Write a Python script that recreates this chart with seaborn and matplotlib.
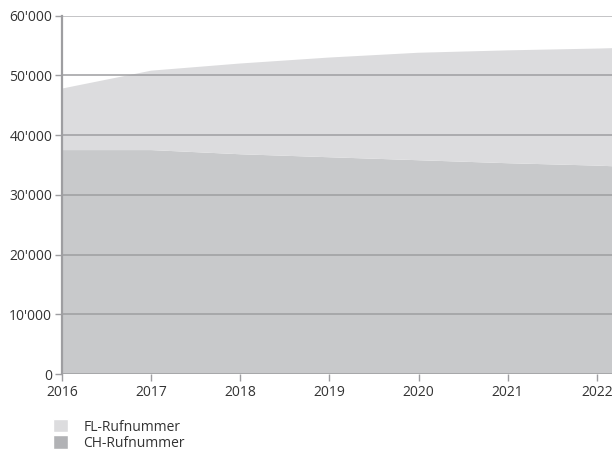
import matplotlib.pyplot as plt
import seaborn as sns
from matplotlib.patches import Patch
from matplotlib.ticker import FuncFormatter

# data (last point only carries the area past the 2022 tick)
years = [2016, 2017, 2018, 2019, 2020, 2021, 2022, 2023]
ch_numbers = [37500, 37500, 36800, 36300, 35800, 35300, 34900, 34300]
fl_numbers = [10300, 13300, 15200, 16700, 18000, 18900, 19600, 20600]
y_ticks = [0, 10000, 20000, 30000, 40000, 50000, 60000]

sns.set_style("white")
plt.rcParams['font.family'] = ['Open Sans', 'DejaVu Sans']

fig = plt.figure(figsize=(6.12, 4.57), dpi=100)
ax = fig.add_axes([0.1013, 0.1816, 0.8987, 0.784])

ax.stackplot(years, ch_numbers, fl_numbers,
             colors=['#c8c9cb', '#dcdcde'], linewidth=0, zorder=1)

ax.set_xlim(2016, 2022.17)
ax.set_ylim(0, 60000)
ax.set_yticks(y_ticks)
ax.set_xticks(years[:-1])
ax.yaxis.set_major_formatter(FuncFormatter(lambda v, p: f"{int(v):,}".replace(",", "'")))

for t in y_ticks:
    c = '#b4b4b6' if t == 60000 else '#9e9ea1'
    ax.axhline(t, color=c, lw=1.1, zorder=2)

for s in ['top', 'right', 'bottom']:
    ax.spines[s].set_visible(False)
ax.spines['left'].set_color('#9e9ea1')
ax.spines['left'].set_linewidth(1.6)
ax.spines['left'].set_zorder(3)

ax.tick_params(axis='y', left=True, length=5, width=1, color='#9e9ea1',
               labelsize=10, labelcolor='#333333', pad=2)
ax.tick_params(axis='x', bottom=True, length=5, width=1, color='#9e9ea1',
               labelsize=10, labelcolor='#333333', pad=3)

handles = [Patch(facecolor='#dcdcde', label='FL-Rufnummer'),
           Patch(facecolor='#b1b2b5', label='CH-Rufnummer')]
fig.legend(handles=handles, loc='upper left', bbox_to_anchor=(0.077, 0.095),
           frameon=False, fontsize=10, handlelength=1.1, handleheight=1.1,
           handletextpad=1.1, labelspacing=0.05, borderaxespad=0, labelcolor='#333333')

fig.savefig('out.png', dpi=100)
